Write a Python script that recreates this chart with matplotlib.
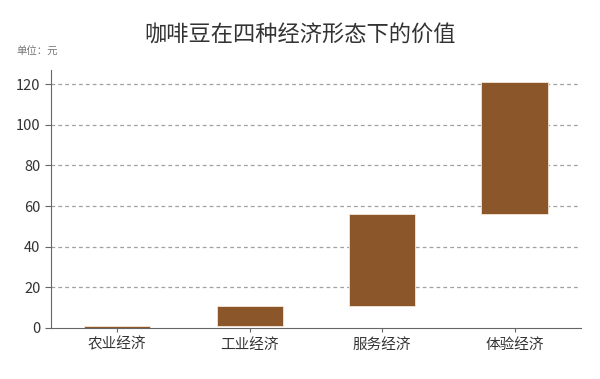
import numpy as np
import matplotlib.pyplot as plt

plt.rcParams['font.family'] = ['Noto Sans CJK SC', 'DejaVu Sans']

categories = ['农业经济', '工业经济', '服务经济', '体验经济']
bottoms = [0, 1, 11, 56]
tops = [1, 11, 56, 121]
yticks = [0, 20, 40, 60, 80, 100, 120]

fig = plt.figure(figsize=(6, 3.79), dpi=100)
ax = fig.add_axes([0.085, 0.135, 0.883, 0.68])

heights = np.array(tops) - np.array(bottoms)
x = np.arange(len(categories))
ax.bar(x, heights, bottom=bottoms, width=0.5, color='#8B572A',
       edgecolor='#f3e6d8', linewidth=0.6, zorder=3)

ax.set_xlim(-0.5, 3.5)
ax.set_ylim(0, 127)
ax.set_yticks(yticks)
ax.set_xticks(x)
ax.set_xticklabels(categories, fontsize=10.5, color='#333333')
ax.tick_params(axis='y', labelsize=10.5, labelcolor='#333333', color='#666666', length=4)
ax.tick_params(axis='x', color='#666666', length=3, pad=4)

for v in yticks[1:]:
    ax.axhline(v, color='#a0a0a0', linestyle=(0, (3, 2.5)), linewidth=0.9, zorder=1)

for s in ['top', 'right']:
    ax.spines[s].set_visible(False)
ax.spines['left'].set_color('#666666')
ax.spines['bottom'].set_color('#666666')

fig.text(0.5, 0.908, '咖啡豆在四种经济形态下的价值', ha='center', va='center',
         fontsize=16, color='#333333')
fig.text(0.028, 0.862, '单位：元', ha='left', va='center', fontsize=7.5, color='#777777')

fig.savefig('out.png', dpi=100)
